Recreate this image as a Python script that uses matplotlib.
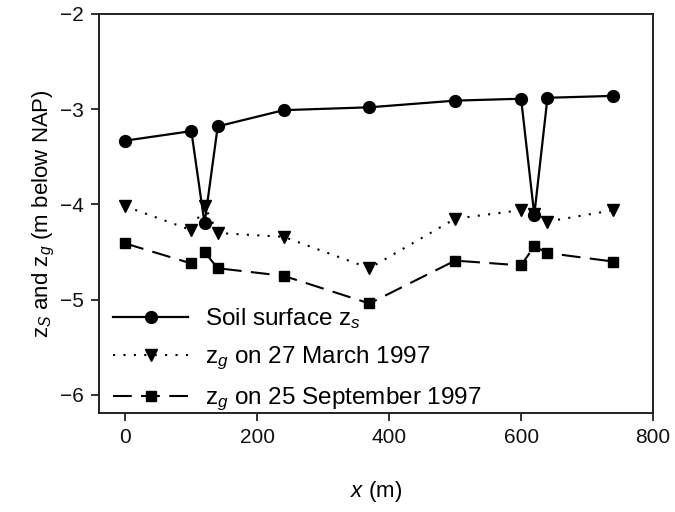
import numpy as np
import matplotlib
matplotlib.use('Agg')
import matplotlib.pyplot as plt

plt.rcParams['font.family'] = ['Liberation Sans', 'DejaVu Sans']
plt.rcParams['mathtext.fontset'] = 'custom'
plt.rcParams['mathtext.rm'] = 'Liberation Sans'
plt.rcParams['mathtext.it'] = 'Liberation Sans:italic'

# distance along the transect (m)
x_soil = [0, 100, 120, 140, 240, 370, 500, 600, 620, 640, 740]
z_soil = [-3.33, -3.23, -4.20, -3.18, -3.01, -2.98, -2.91, -2.89, -4.11, -2.88, -2.86]

x_march = [0, 100, 120, 140, 240, 370, 500, 600, 620, 640, 740]
z_march = [-4.02, -4.27, -4.02, -4.30, -4.34, -4.67, -4.15, -4.06, -4.10, -4.18, -4.06]

x_sept = [0, 100, 120, 140, 240, 370, 500, 600, 620, 640, 740]
z_sept = [-4.41, -4.62, -4.50, -4.67, -4.75, -5.04, -4.59, -4.64, -4.44, -4.51, -4.60]

fig = plt.figure(figsize=(6.75, 5.12), dpi=100)
ax = fig.add_axes([0.1467, 0.1934, 0.8207, 0.7793])

ax.plot(x_soil, z_soil, color='black', lw=1.6, marker='o', ms=8.5,
        label=r'Soil surface $\mathregular{z}_{s}$')
ax.plot(x_march, z_march, color='black', lw=1.5, ls=(0, (1, 4)), marker='v', ms=8.5,
        label=r'$\mathregular{z}_{g}$ on 27 March 1997')
ax.plot(x_sept, z_sept, color='black', lw=1.5, ls=(0, (9, 4.5)), marker='s', ms=7.5,
        label=r'$\mathregular{z}_{g}$ on 25 September 1997')

ax.set_xlim(-40, 800)
ax.set_ylim(-6.19, -2)
ax.set_xticks([0, 200, 400, 600, 800])
ax.set_yticks([-2, -3, -4, -5, -6])
ax.tick_params(labelsize=15, length=6, width=1.2, direction='out', pad=5,
               colors='#111111')
for s in ax.spines.values():
    s.set_linewidth(1.4)
    s.set_color('#222222')

ax.set_xlabel(r'$\mathit{x}$ (m)', fontsize=16, labelpad=23)
ax.set_ylabel(r'$\mathregular{z}_{S}$ and $\mathregular{z}_{g}$ (m below NAP)',
              fontsize=16, labelpad=2)

ax.legend(loc='lower left', bbox_to_anchor=(0.025, 0.0), frameon=False,
          fontsize=17.5, handlelength=3.1, handletextpad=0.7, labelspacing=0.56,
          borderpad=0, borderaxespad=0, numpoints=1)

fig.savefig('out.png', dpi=100)
